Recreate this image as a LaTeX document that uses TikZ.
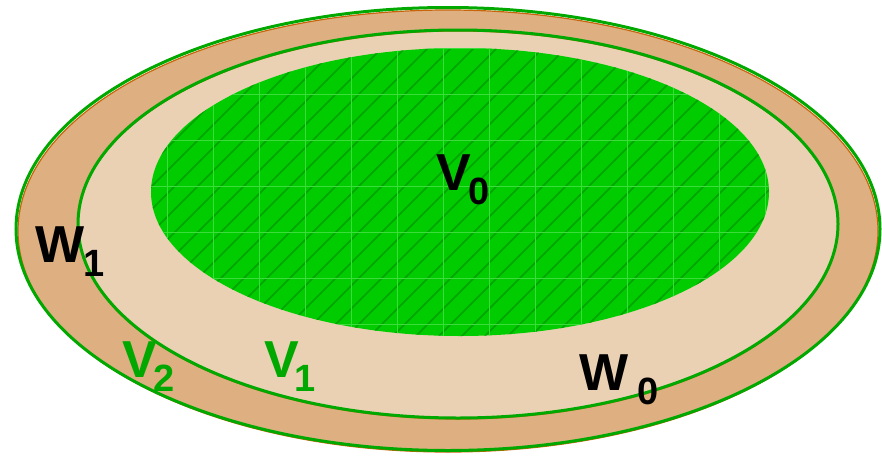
\documentclass[tikz,border=0pt]{standalone}
\usepackage{fontspec}
\setmainfont{Liberation Sans}
\definecolor{tanDark}{HTML}{DEAF80}
\definecolor{tanLight}{HTML}{EBD1B3}
\definecolor{rimBrown}{HTML}{C8650A}
\definecolor{rimGreen}{HTML}{00A800}
\definecolor{coreGreen}{HTML}{00CC00}
\definecolor{hatchGreen}{HTML}{00A400}
\definecolor{gridGreen}{HTML}{3CDC3C}
\newcommand{\lowsub}[1]{\raisebox{-14pt}{\fontsize{38}{40}\selectfont #1}}

\begin{document}
\begin{tikzpicture}[x=1pt, y=-1pt,
    rim/.style={draw=rimGreen, line width=3pt},
    brownrim/.style={draw=rimBrown, line width=1.2pt},
    lbl/.style={font=\fontsize{52}{56}\selectfont\bfseries, inner sep=0pt, anchor=base west},
  ]
    \useasboundingbox (0,0) rectangle (882,455);

    % outer ring W1 / V2
    \fill[tanDark] (448,231) ellipse [x radius=430, y radius=221];
    \draw[brownrim] (448,231) ellipse [x radius=430, y radius=221];
    \draw[rim] (448,229) ellipse [x radius=432, y radius=221.5];

    % middle ring W0 / V1
    \fill[tanLight] (458,224) ellipse [x radius=380, y radius=194];
    \draw[brownrim] (458,225) ellipse [x radius=380, y radius=194];
    \draw[rim] (458,224) ellipse [x radius=380, y radius=194];

    % core V0
    \fill[coreGreen] (460,192) ellipse [x radius=309, y radius=144];
    \begin{scope}
      \clip (460,192) ellipse [x radius=309, y radius=144];
      \foreach \c in {200,223,...,1130}
        \draw[hatchGreen, line width=1.5pt] (\c-40,40) -- (\c-345,345);
      \foreach \gx in {-17,29,...,887}
        \draw[gridGreen, line width=0.8pt] (\gx,40) -- (\gx,345);
      \foreach \gy in {2,48,...,370}
        \draw[gridGreen, line width=0.8pt] (140,\gy) -- (780,\gy);
    \end{scope}

    % labels
    \node[lbl] (v0) at (436,190) {V\kern-2pt\lowsub{0}};
    \node[lbl] (w1) at (35,262) {W\kern-1pt\lowsub{1}};
    \node[lbl] (w0) at (579,390) {W\hspace{9pt}\lowsub{0}};
    \node[lbl, text=rimGreen] (v2) at (122,377) {V\kern-3pt\lowsub{2}};
    \node[lbl, text=rimGreen] (v1) at (264,377) {V\kern-4pt\lowsub{1}};
  \end{tikzpicture}
\end{document}
